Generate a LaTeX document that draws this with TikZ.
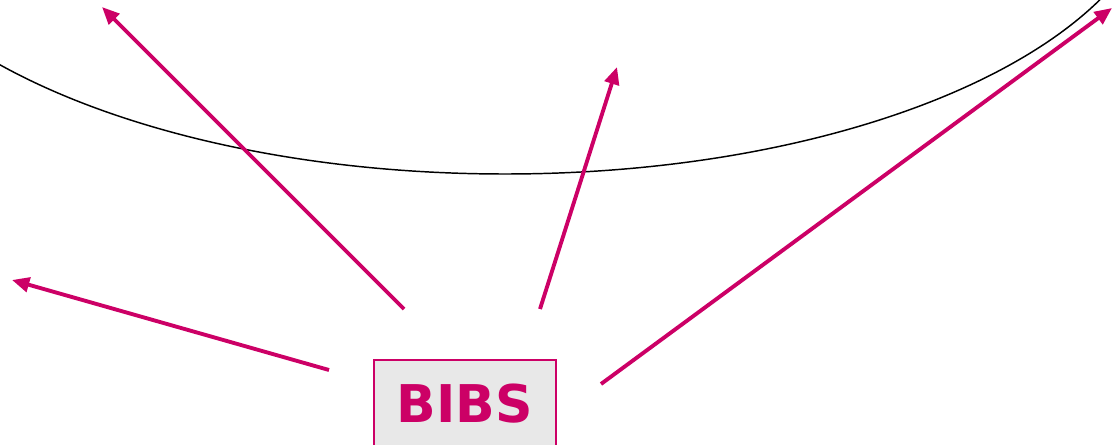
\documentclass[tikz,border=0pt]{standalone}
\usepackage{fontspec}
\newfontfamily\boxfont{DejaVu Sans}
\usetikzlibrary{arrows.meta}
\definecolor{mag}{RGB}{204,0,102}
\definecolor{boxfill}{RGB}{232,232,232}
\tikzset{
  ray/.style={draw=mag, line width=2.9pt, -{Triangle[length=13pt,width=11pt]}},
  bibsbox/.style={draw=mag, line width=0.8pt, fill=boxfill, minimum width=136.5pt, minimum height=66pt, inner sep=0pt, text=mag, font=\boxfont\bfseries\fontsize{39}{41}\selectfont},
  arc/.style={draw=black, line width=1.1pt}
}
\begin{document}
\begin{tikzpicture}[x=0.75pt,y=-0.75pt]
\useasboundingbox (0,0) rectangle (1112,445);
\clip (0,0) rectangle (1112,445);
\draw[arc] (505,-129) ++(180:657 and 303) arc[start angle=180, end angle=0, x radius=657, y radius=303];
\node[bibsbox] (bibs) at (465,404) {BIBS};
\coordinate (s1) at (404,309);
\coordinate (t1) at (102,7);
\coordinate (s2) at (540,309);
\coordinate (t2) at (617,67);
\coordinate (s3) at (329,370);
\coordinate (t3) at (12,280);
\coordinate (s4) at (601,384);
\coordinate (t4) at (1112,8);
\draw[ray] (s1) -- (t1);
\draw[ray] (s2) -- (t2);
\draw[ray] (s3) -- (t3);
\draw[ray] (s4) -- (t4);
\end{tikzpicture}
\end{document}
